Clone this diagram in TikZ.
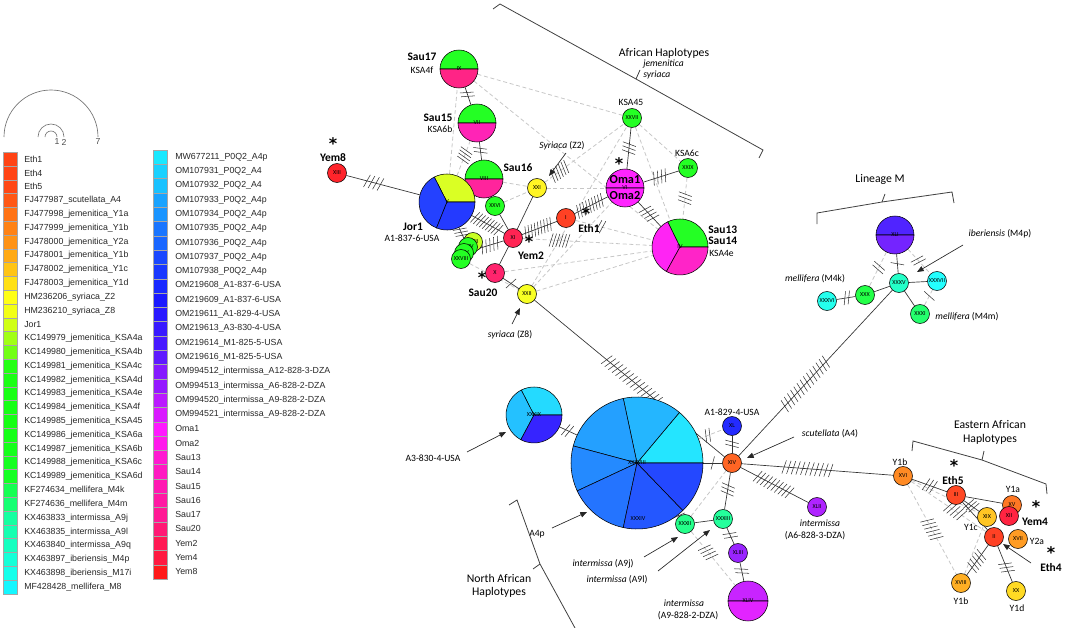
\PassOptionsToPackage{rgb}{xcolor}
\documentclass[tikz,border=0pt]{standalone}
\usepackage{fontspec}
\setmainfont{Carlito}
\newfontfamily\legfont{Liberation Sans}
\newfontfamily\starfont{DejaVu Sans}
\usetikzlibrary{arrows.meta,decorations.markings}
\selectcolormodel{rgb}
\pgfdeclarelayer{bg}
\pgfsetlayers{bg,main}
\newcommand{\mkh}[1]{\definecolor{h#1}{Hsb}{#1,0.86,1}}
\mkh{8}\mkh{10}\mkh{18}\mkh{23}\mkh{28}\mkh{33}\mkh{38}\mkh{44}\mkh{50}\mkh{57}\mkh{62}\mkh{70}\mkh{75}
\mkh{120}\mkh{130}\mkh{140}\mkh{148}\mkh{153}\mkh{165}\mkh{175}\mkh{180}\mkh{187}\mkh{190}\mkh{197}
\mkh{200}\mkh{206}\mkh{212}\mkh{218}\mkh{226}\mkh{230}\mkh{232}\mkh{234}\mkh{238}\mkh{245}\mkh{252}
\mkh{262}\mkh{272}\mkh{278}\mkh{285}\mkh{292}\mkh{300}\mkh{303}\mkh{315}\mkh{320}\mkh{327}\mkh{333}
\mkh{340}\mkh{347}\mkh{352}\mkh{358}
\newcommand{\numf}{\fontsize{4.6}{5}\selectfont}
\newcommand{\pieslice}[5]{\filldraw[fill=#5, draw=black, line width=0.4pt] (#1) -- ++(#3:#2) arc[start angle=#3, end angle=#4, radius=#2] -- cycle;}
\begin{document}
\begin{tikzpicture}[x=0.75pt,y=-0.75pt,
  hap/.style={circle, draw=black, line width=0.4pt, inner sep=0pt, minimum size=14.25pt, fill=#1, font=\numf},
  pien/.style={circle, inner sep=0pt, minimum size=#1},
  numl/.style={inner sep=0pt, font=\numf},
  lk/.style={draw=black!80, line width=0.5pt},
  dk/.style={draw=black!22, dash pattern=on 3pt off 2pt, line width=0.6pt},
  ht/.style n args={3}{postaction={decorate, decoration={markings, mark=between positions #1 and #2 step #3 with {\draw[black!80, solid, line width=0.4pt] (-1.3pt,-5pt) -- (1.3pt,5pt);}}}},
  ht1/.style={postaction={decorate, decoration={markings, mark=at position #1 with {\draw[black!80, solid, line width=0.4pt] (-1.3pt,-5pt) -- (1.3pt,5pt);}}}},
  arr/.style={draw=black!85, line width=0.5pt, -{Triangle[length=5pt,width=4pt]}},
  brk/.style={draw=black!75, line width=0.6pt},
  bl/.style={inner sep=0pt, font=\fontsize{8.6}{9}\selectfont\bfseries},
  rl/.style={inner sep=0pt, font=\fontsize{7.2}{8}\selectfont},
  il/.style={inner sep=0pt, font=\fontsize{7.2}{8}\selectfont\itshape},
  hd/.style={inner sep=0pt, font=\fontsize{8.8}{10}\selectfont},
  st/.style={inner sep=0pt, font=\starfont\bfseries\fontsize{12}{12}\selectfont},
  leg/.style={inner sep=0pt, anchor=west, font=\legfont\fontsize{6.6}{7}\selectfont, text=black!85},
]
\useasboundingbox (0,0) rectangle (1065,628);

% ---------------- legend
\draw[black!55, line width=0.5pt] (4,137) arc[start angle=180, end angle=360, radius=47];
\draw[black!55, line width=0.5pt] (38,137) arc[start angle=180, end angle=360, radius=13];
\draw[black!55, line width=0.5pt] (45,137) arc[start angle=180, end angle=360, radius=6];
\node[inner sep=0pt, font=\legfont\fontsize{6.5}{7}\selectfont, text=black!70] (sz1) at (57,142) {1};
\node[inner sep=0pt, font=\legfont\fontsize{6.5}{7}\selectfont, text=black!70] (sz2) at (64,142) {2};
\node[inner sep=0pt, font=\legfont\fontsize{6.5}{7}\selectfont, text=black!70] (sz7) at (98,142) {7};

\foreach \lab/\h [count=\i from 0] in {Eth1/12, Eth4/12, Eth5/13, FJ477987\_scutellata\_A4/17, FJ477998\_jemenitica\_Y1a/24, FJ477999\_jemenitica\_Y1b/28, FJ478000\_jemenitica\_Y2a/32, FJ478001\_jemenitica\_Y1b/38, FJ478002\_jemenitica\_Y1c/45, FJ478003\_jemenitica\_Y1d/52, HM236206\_syriaca\_Z2/60, HM236210\_syriaca\_Z8/63, Jor1/72, KC149979\_jemenitica\_KSA4a/84, KC149980\_jemenitica\_KSA4b/96, KC149981\_jemenitica\_KSA4c/116, KC149982\_jemenitica\_KSA4d/118, KC149983\_jemenitica\_KSA4e/119, KC149984\_jemenitica\_KSA4f/120, KC149985\_jemenitica\_KSA45/120, KC149986\_jemenitica\_KSA6a/121, KC149987\_jemenitica\_KSA6b/122, KC149988\_jemenitica\_KSA6c/123, KC149989\_jemenitica\_KSA6d/124, KF274634\_mellifera\_M4k/136, KF274636\_mellifera\_M4m/144, KX463833\_intermissa\_A9j/156, KX463835\_intermissa\_A9l/160, KX463840\_intermissa\_A9q/164, KX463897\_iberiensis\_M4p/170, KX463898\_iberiensis\_M17i/175, MF428428\_mellifera\_M8/182}{
  \definecolor{tmpc}{Hsb}{\h,0.92,1}
  \filldraw[fill=tmpc, draw=black!35, line width=0.3pt] (3,{152.2+13.8*\i}) rectangle (17,{152.2+13.8*(\i+1)});
  \node[leg] (la\i) at (24,{159.1+13.8*\i}) {\lab};
}
\foreach \lab/\h [count=\i from 0] in {MW677211\_P0Q2\_A4p/186, OM107931\_P0Q2\_A4/192, OM107932\_P0Q2\_A4/196, OM107933\_P0Q2\_A4p/204, OM107934\_P0Q2\_A4p/208, OM107935\_P0Q2\_A4p/216, OM107936\_P0Q2\_A4p/220, OM107937\_P0Q2\_A4p/228, OM107938\_P0Q2\_A4p/232, OM219608\_A1-837-6-USA/236, OM219609\_A1-837-6-USA/240, OM219611\_A1-829-4-USA/244, OM219613\_A3-830-4-USA/248, OM219614\_M1-825-5-USA/252, OM219616\_M1-825-5-USA/258, OM994512\_intermissa\_A12-828-3-DZA/268, OM994513\_intermissa\_A6-828-2-DZA/272, OM994520\_intermissa\_A9-828-2-DZA/282, OM994521\_intermissa\_A9-828-2-DZA/290, Oma1/300, Oma2/305, Sau13/312, Sau14/316, Sau15/320, Sau16/324, Sau17/328, Sau20/336, Yem2/345, Yem4/350, Yem8/0}{
  \definecolor{tmpc}{Hsb}{\h,0.9,1}
  \filldraw[fill=tmpc, draw=black!35, line width=0.3pt] (153,{150+14.3*\i}) rectangle (167,{150+14.3*(\i+1)});
  \node[leg] (lb\i) at (175,{157.1+14.3*\i}) {\lab};
}

% ---------------- top cluster nodes
\coordinate (s17c) at (459,69);
\node[pien=28.5pt] (s17) at (s17c) {};
\pieslice{s17c}{19}{0}{-180}{h120}
\pieslice{s17c}{19}{-180}{-360}{h333}
\node[numl] (s17t) at (s17c) {IX};
\coordinate (s15c) at (477,123);
\node[pien=28.5pt] (s15) at (s15c) {};
\pieslice{s15c}{19}{0}{-180}{h120}
\pieslice{s15c}{19}{-180}{-360}{h320}
\node[numl] (s15t) at (s15c) {VII};
\coordinate (s16c) at (484,179);
\node[pien=28.5pt] (s16) at (s16c) {};
\pieslice{s16c}{19}{0}{-180}{h120}
\pieslice{s16c}{19}{-180}{-360}{h327}
\node[numl] (s16t) at (s16c) {VIII};
\coordinate (jorc) at (447,202);
\node[pien=42pt] (jor) at (jorc) {};
\pieslice{jorc}{28}{0}{-117}{h70}
\pieslice{jorc}{28}{-117}{-248}{h232}
\pieslice{jorc}{28}{-248}{-360}{h234}
\node[numl] (jort) at (jorc) {V};
\coordinate (omac) at (625,188);
\node[pien=28.5pt] (oma) at (omac) {};
\pieslice{omac}{19}{0}{-180}{h300}
\pieslice{omac}{19}{-180}{-360}{h300}
\node[numl] (omat) at (omac) {VI};
\coordinate (s13c) at (680,247);
\node[pien=42pt] (s13) at (s13c) {};
\pieslice{s13c}{28}{0}{-116}{h120}
\pieslice{s13c}{28}{-116}{-241}{h303}
\pieslice{s13c}{28}{-241}{-360}{h315}
\node[numl] (s13t) at (s13c) {IV};

\node[hap=h358] (x13) at (337,173) {XIII};
\node[hap=h120] (x26) at (495,206) {XXVI};
\node[hap=h57] (x21) at (537,188) {XXI};
\node[hap=h347] (x11) at (513,238) {XI};
\node[hap=h75] (x23) at (473,242) {XXIII};
\node[hap=h120] (x24) at (468,247) {XXIV};
\node[hap=h120] (x25) at (464,253) {XXV};
\node[hap=h120] (x28) at (461,259) {XXVIII};
\node[hap=h340] (x10) at (495,273) {X};
\node[hap=h62] (x22) at (527,294) {XXII};
\node[hap=h8] (x1) at (566,218) {I};
\node[hap=h120] (x27) at (632,118) {XXVII};
\node[hap=h120] (x29) at (688,168) {XXIX};

% ---------------- lineage M nodes
\coordinate (x41c) at (895,235);
\node[pien=28.5pt] (x41) at (x41c) {};
\pieslice{x41c}{19}{0}{-180}{h252}
\pieslice{x41c}{19}{-180}{-360}{h262}
\node[numl] (x41t) at (x41c) {XLI};
\node[hap=h165] (x35) at (899,283) {XXXV};
\node[hap=h180] (x37) at (937,281) {XXXVII};
\node[hap=h130] (x30) at (865,295) {XXX};
\node[hap=h175] (x36) at (827,301) {XXXVI};
\node[hap=h140] (x31) at (920,314) {XXXI};

% ---------------- central nodes
\coordinate (bigc) at (637,463);
\node[pien=99pt] (big) at (bigc) {};
\pieslice{bigc}{66}{0}{-50}{h187}
\pieslice{bigc}{66}{-50}{-102}{h200}
\pieslice{bigc}{66}{-102}{-165}{h206}
\pieslice{bigc}{66}{-165}{-205}{h212}
\pieslice{bigc}{66}{-205}{-258}{h218}
\pieslice{bigc}{66}{-258}{-314}{h226}
\pieslice{bigc}{66}{-314}{-360}{h230}
\node[numl] (bigt) at (bigc) {XXXVIII};
\node[numl] (x34t) at (638,519) {XXXIV};
\coordinate (x39c) at (534,415);
\node[pien=42pt] (x39) at (x39c) {};
\pieslice{x39c}{28}{0}{-117}{h190}
\pieslice{x39c}{28}{-117}{-242}{h197}
\pieslice{x39c}{28}{-242}{-360}{h245}
\node[numl] (x39t) at (x39c) {XXXIX};
\node[hap=h18] (x14) at (732,463) {XIV};
\node[hap=h238] (x40) at (732,426) {XL};
\node[hap=h153] (x33) at (723,519) {XXXIII};
\node[hap=h148] (x32) at (685,524) {XXXII};
\node[hap=h272] (x43) at (738,553) {XLIII};
\node[hap=h278] (x42) at (817,507) {XLII};
\coordinate (x44c) at (748,601);
\node[pien=30pt] (x44) at (x44c) {};
\pieslice{x44c}{20}{0}{-180}{h285}
\pieslice{x44c}{20}{-180}{-360}{h292}
\node[numl] (x44t) at (x44c) {XLIV};

% ---------------- eastern nodes
\node[hap=h28] (x16) at (903,476) {XVI};
\node[hap=h10] (x3) at (956,495) {III};
\node[hap=h23] (x15) at (1012,505) {XV};
\node[hap=h352] (x12) at (1009,516) {XII};
\node[hap=h44] (x19) at (987,517) {XIX};
\node[hap=h33] (x17) at (1018,539) {XVII};
\node[hap=h8] (x2) at (994,537) {II};
\node[hap=h38] (x18) at (961,583) {XVIII};
\node[hap=h50] (x20) at (1016,591) {XX};

% ---------------- connectors
\begin{pgfonlayer}{bg}
\draw[dk] (s17) -- (x27);
\draw[dk] (s17) -- (s13);
\draw[dk] (jor) -- (s17);
\draw[dk, ht={0.45}{0.75}{2.5pt}] (jor) -- (s15);
\draw[dk] (s16) -- (x21);
\draw[dk, ht={0.1}{0.3}{2.5pt}] (x21) -- (x27);
\draw[dk] (x21) -- (oma);
\draw[dk] (x22) -- (s13);
\draw[dk] (x22) -- (x27);
\draw[dk] (x22) -- (oma);
\draw[dk] (x10) -- (s13);
\draw[dk, ht={0.22}{0.36}{2.5pt}] (x11) -- (s13);
\draw[dk] (x27) -- (s13);
\draw[dk, ht={0.4}{0.6}{3pt}] (x29) -- (s13);
\draw[dk] (x27) -- (x29);
\draw[dk, ht={0.3}{0.4}{3pt}] (x1) -- (s13);
\draw[dk] (x26) -- (x21);
\draw[dk] (x28) -- (x22);
\draw[lk, ht={0.28}{0.5}{3.5pt}] (x13) -- (jor);
\draw[lk, ht={0.3}{0.7}{3pt}] (s17) -- (s15);
\draw[lk, ht={0.35}{0.65}{3pt}] (s15) -- (s16);
\draw[lk, ht={0.1}{0.9}{2.5pt}] (jor) -- (x11);
\draw[lk, ht={0.15}{0.85}{2.5pt}] (jor) -- (x24);
\draw[lk] (x26) -- (x11);
\draw[lk] (x21) -- (x11);
\draw[lk] (x11) -- (x10);
\draw[lk, ht1=0.5] (x10) -- (x22);
\draw[lk, ht={0.1}{0.9}{2.5pt}] (x11) -- (x1);
\draw[lk, ht={0.1}{0.9}{2.5pt}] (x1) -- (oma);
\draw[lk, ht={0.4}{0.6}{3pt}] (x27) -- (oma);
\draw[lk, ht={0.3}{0.7}{3pt}] (oma) -- (x29);
\draw[lk, ht={0.3}{0.7}{3pt}] (oma) -- (s13);
\draw[lk, ht={0.2}{0.8}{3pt}] (x11) -- (x25);
\draw[lk, ht={0.38}{0.66}{3.5pt}] (x22) -- (x14);
\draw[lk, ht={0.3}{0.58}{3.5pt}] (x14) -- (x35);
\draw[lk, ht={0.28}{0.6}{3.5pt}] (x14) -- (x16);
\draw[dk, ht={0.4}{0.6}{3pt}] (x41) -- (x37);
\draw[dk, ht={0.4}{0.6}{3pt}] (x41) -- (x30);
\draw[dk, ht={0.4}{0.6}{3pt}] (x37) -- (x31);
\draw[lk, ht1=0.5] (x41) -- (x35);
\draw[lk] (x35) -- (x37);
\draw[lk] (x35) -- (x30);
\draw[lk, ht={0.35}{0.65}{3pt}] (x30) -- (x36);
\draw[lk] (x35) -- (x31);
\draw[dk] (x14) -- (x32);
\draw[dk, ht={0.3}{0.5}{3pt}] (x32) -- (x44);
\draw[dk, ht={0.3}{0.6}{3pt}] (big) -- (x40);
\draw[lk, ht={0.35}{0.65}{3pt}] (x39) -- (big);
\draw[lk, ht1=0.5] (big) -- (x14);
\draw[lk, ht={0.35}{0.65}{3pt}] (x40) -- (x14);
\draw[lk, ht={0.35}{0.65}{3pt}] (x14) -- (x33);
\draw[lk, ht1=0.5] (big) -- (x32);
\draw[lk] (x32) -- (x33);
\draw[lk, ht={0.35}{0.65}{3pt}] (x33) -- (x43);
\draw[lk, ht={0.35}{0.65}{3pt}] (x43) -- (x44);
\draw[lk, ht={0.25}{0.75}{3pt}] (x14) -- (x42);
\draw[dk, ht={0.4}{0.6}{3pt}] (x16) -- (x18);
\draw[dk, ht={0.5}{0.7}{3pt}] (x16) -- (x2);
\draw[dk] (x16) -- (x19);
\draw[dk] (x18) -- (x19);
\draw[lk, ht={0.4}{0.62}{3pt}] (x16) -- (x3);
\draw[lk] (x3) -- (x15);
\draw[lk, ht={0.3}{0.7}{2.5pt}] (x3) -- (x19);
\draw[lk, ht={0.25}{0.75}{3pt}] (x18) -- (x2);
\draw[lk, ht={0.3}{0.6}{3pt}] (x20) -- (x2);
\draw[lk] (x3) -- (x2);
\end{pgfonlayer}

% ---------------- labels, top
\node[bl] (lsau17) at (422,57) {Sau17};
\node[rl] (lksa4f) at (422,70) {KSA4f};
\node[bl] (lsau15) at (438,118) {Sau15};
\node[rl] (lksa6b) at (440,129) {KSA6b};
\node[bl] (lsau16) at (518,168) {Sau16};
\node[bl] (ljor1) at (413,227) {Jor1};
\node[rl] (la1837) at (412,238) {A1-837-6-USA};
\node[st] (ast8) at (333,144) {*};
\node[bl] (lyem8) at (333,158) {Yem8};
\node[st] (ast2) at (529,242) {*};
\node[bl] (lyem2) at (531,256) {Yem2};
\node[st] (ast20) at (482,278) {*};
\node[bl] (lsau20) at (483,293) {Sau20};
\node[st] (ast1) at (586,214) {*};
\node[bl] (leth1) at (589,229) {Eth1};
\node[st] (astoma) at (619,164) {*};
\node[inner sep=0pt, font=\fontsize{9.2}{10}\selectfont\bfseries] (loma1) at (625,180) {Oma1};
\node[inner sep=0pt, font=\fontsize{9.2}{10}\selectfont\bfseries] (loma2) at (625,196) {Oma2};
\node[rl] (lksa45) at (631,102) {KSA45};
\node[rl] (lksa6c) at (687,153) {KSA6c};
\node[bl, anchor=west] (lsau13) at (708,230) {Sau13};
\node[bl, anchor=west] (lsau14) at (708,241) {Sau14};
\node[rl, anchor=west] (lksa4e) at (709,253) {KSA4e};
\node[hd] (lafr) at (664,53) {African Haplotypes};
\node[il, anchor=west] (ljem) at (643,64) {jemenitica};
\node[il, anchor=west] (lsyr) at (643,75) {syriaca};
\node[rl] (lz2) at (562,146) {\itshape Syriaca \upshape(Z2)};
\node[rl] (lz8) at (510,335) {\itshape syriaca \upshape(Z8)};
\draw[brk] (493,9) -- (500,4) -- (636,79) -- (763,150) -- (759,158);
\draw[brk] (636,79) -- (640,70);

% ---------------- labels, lineage M
\node[hd] (llinM) at (880,179) {Lineage M};
\draw[brk] (817,224) -- (817,213) -- (882,202) -- (952,192) -- (954,203);
\draw[brk] (882,202) -- (885,194);
\node[rl] (lm4k) at (815,279) {\itshape mellifera \upshape(M4k)};
\node[rl] (lm4p) at (1000,234) {\itshape iberiensis \upshape(M4p)};
\node[rl] (lm4m) at (967,317) {\itshape mellifera \upshape(M4m)};

% ---------------- labels, central
\node[rl] (la1829) at (732,412) {A1-829-4-USA};
\node[rl] (lscut) at (830,434) {\itshape scutellata \upshape(A4)};
\node[il] (lint1) at (820,523) {intermissa};
\node[rl] (la6) at (815,536) {(A6-828-3-DZA)};
\node[rl] (la3) at (433,458) {A3-830-4-USA};
\node[rl] (la4p) at (537,534) {A4p};
\node[hd] (lna1) at (499,578) {North African};
\node[hd] (lna2) at (499,592) {Haplotypes};
\draw[brk] (509,505) -- (517,500) -- (540,564) -- (575,628);
\draw[brk] (540,564) -- (533,569);
\node[rl] (la9j) at (603,564) {\itshape intermissa \upshape(A9j)};
\node[rl] (la9l) at (617,580) {\itshape intermissa \upshape(A9l)};
\node[il] (lint2) at (684,603) {intermissa};
\node[rl] (la9) at (688,616) {(A9-828-2-DZA)};

% ---------------- labels, eastern
\node[hd] (lea1) at (990,425) {Eastern African};
\node[hd] (lea2) at (990,439) {Haplotypes};
\draw[brk] (912,451) -- (913,441) -- (982,460) -- (1046,484) -- (1047,494);
\draw[brk] (982,460) -- (984,451);
\node[rl] (ly1b) at (900,462) {Y1b};
\node[rl] (ly1a) at (1013,489) {Y1a};
\node[rl] (ly1c) at (971,527) {Y1c};
\node[rl] (ly2a) at (1037,541) {Y2a};
\node[rl] (ly1b2) at (961,601) {Y1b};
\node[rl] (ly1d) at (1017,608) {Y1d};
\node[st] (ast5) at (954,466) {*};
\node[bl] (leth5) at (953,481) {Eth5};
\node[st] (ast4) at (1036,507) {*};
\node[bl] (lyem4) at (1035,522) {Yem4};
\node[st] (asteth4) at (1051,553) {*};
\node[bl] (leth4) at (1051,568) {Eth4};

% ---------------- pointer arrows
\coordinate (z2s) at (566,153); \coordinate (z2e) at (549,176);
\coordinate (z8s) at (512,324); \coordinate (z8e) at (520,308);
\coordinate (ibs) at (963,245); \coordinate (ibe) at (917,272);
\coordinate (scs) at (794,437); \coordinate (sce) at (747,458);
\coordinate (a3s) at (467,452); \coordinate (a3e) at (506,432);
\coordinate (a4s) at (552,528); \coordinate (a4e) at (587,512);
\coordinate (a9js) at (644,557); \coordinate (a9je) at (678,537);
\coordinate (a9ls) at (658,571); \coordinate (a9le) at (710,530);
\coordinate (e4s) at (1031,563); \coordinate (e4e) at (1003,544);
\draw[arr] (z2s) -- (z2e);
\draw[arr] (z8s) -- (z8e);
\draw[arr] (ibs) -- (ibe);
\draw[arr] (scs) -- (sce);
\draw[arr] (a3s) -- (a3e);
\draw[arr] (a4s) -- (a4e);
\draw[arr] (a9js) -- (a9je);
\draw[arr] (a9ls) -- (a9le);
\draw[arr] (e4s) -- (e4e);
\end{tikzpicture}
\end{document}
